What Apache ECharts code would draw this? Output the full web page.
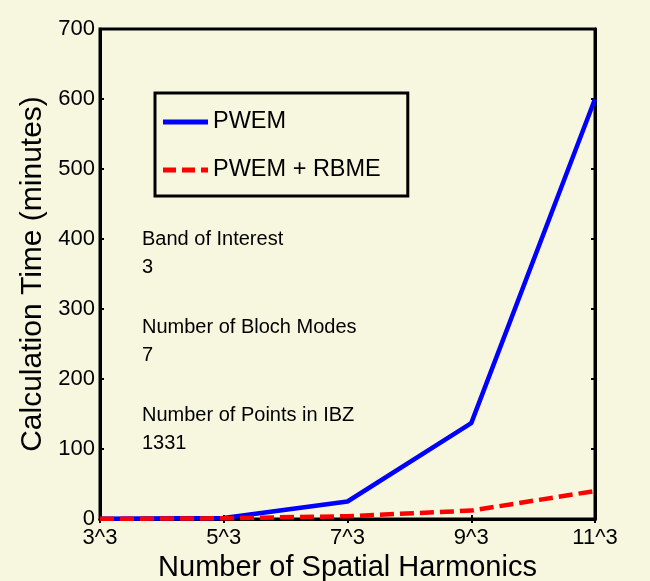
<!DOCTYPE html>
<html>
<head>
<meta charset="utf-8">
<script src="https://cdn.jsdelivr.net/npm/echarts@6/dist/echarts.min.js"></script>
<style>
html,body{margin:0;padding:0;background:#f7f6df;}
#chart{width:650px;height:581px;}
</style>
</head>
<body>
<div id="chart"></div>
<script>
var categories = ['3^3', '5^3', '7^3', '9^3', '11^3'];
var pwem = [0.3, 1.5, 25, 137, 600];
var pwemRbme = [0.2, 1, 4, 12, 40];
var seriesNames = ['PWEM', 'PWEM + RBME'];
var yTicks = { min: 0, max: 700, interval: 100 };
var notes = ['Band of Interest', '3', 'Number of Bloch Modes', '7', 'Number of Points in IBZ', '1331'];

var FONT = '"Liberation Sans", Arial, sans-serif';
var chart = echarts.init(document.getElementById('chart'));
var noteY = [240, 268, 328, 356, 416, 444];
var option = {
  backgroundColor: '#f7f6df',
  animation: false,
  grid: { left: 100, right: 55, top: 29, bottom: 62, show: true, borderColor: '#000', borderWidth: 3,
    containLabel: false, outerBoundsMode: 'none' },
  legend: {
    orient: 'vertical', left: 155, top: 93,
    data: [
      { name: seriesNames[0], icon: 'path://M0,0h45v5h-45z' },
      { name: seriesNames[1], icon: 'path://M0,0h13v5h-13z M19,0h13v5h-13z M38,0h7v5h-7z' }
    ],
    itemWidth: 45, itemHeight: 5, itemGap: 24,
    padding: [17, 27, 14, 8],
    borderColor: '#000', borderWidth: 3,
    textStyle: { fontFamily: FONT, fontSize: 23.5, color: '#000' }
  },
  xAxis: [{
    type: 'category', data: categories, boundaryGap: false,
    name: 'Number of Spatial Harmonics', nameLocation: 'middle', nameGap: 24,
    nameTextStyle: { fontFamily: FONT, fontSize: 29, color: '#000' },
    axisLine: { lineStyle: { color: '#000', width: 3 } },
    axisTick: { inside: true, length: 4, lineStyle: { color: '#000', width: 2 } },
    axisLabel: { fontFamily: FONT, fontSize: 22, color: '#000', margin: 8 },
    splitLine: { show: false }
  }, {
    type: 'category', data: categories, boundaryGap: false, position: 'top',
    axisLine: { lineStyle: { color: '#000', width: 3 } },
    axisTick: { inside: true, length: 4, lineStyle: { color: '#000', width: 2 } },
    axisLabel: { show: false }, splitLine: { show: false }
  }],
  yAxis: [{
    type: 'value', min: yTicks.min, max: yTicks.max, interval: yTicks.interval,
    name: 'Calculation Time (minutes)', nameLocation: 'middle', nameGap: 39,
    nameTextStyle: { fontFamily: FONT, fontSize: 30, color: '#000' },
    axisLine: { show: true, lineStyle: { color: '#000', width: 3 } },
    axisTick: { show: true, inside: true, length: 4, lineStyle: { color: '#000', width: 2 } },
    axisLabel: { fontFamily: FONT, fontSize: 22, color: '#000', margin: 5 },
    splitLine: { show: false }
  }, {
    type: 'value', min: yTicks.min, max: yTicks.max, interval: yTicks.interval, position: 'right',
    axisLine: { show: true, lineStyle: { color: '#000', width: 3 } },
    axisTick: { show: true, inside: true, length: 4, lineStyle: { color: '#000', width: 2 } },
    axisLabel: { show: false }, splitLine: { show: false }
  }],
  graphic: notes.map(function (t, i) {
    return { type: 'text', left: 142, top: noteY[i] - 11, z: 10,
      style: { text: t, font: '20px ' + FONT, fill: '#000' } };
  }),
  series: [{
    name: seriesNames[0], type: 'line', data: pwem, symbol: 'none', z: 3,
    lineStyle: { color: '#0000ff', width: 4.5 }, itemStyle: { color: '#0000ff' }
  }, {
    name: seriesNames[1], type: 'line', data: pwemRbme, symbol: 'none', z: 4,
    lineStyle: { color: '#ff0000', width: 4.5, type: [14, 6] }, itemStyle: { color: '#ff0000' }
  }]
};
chart.setOption(option);
</script>
</body>
</html>
